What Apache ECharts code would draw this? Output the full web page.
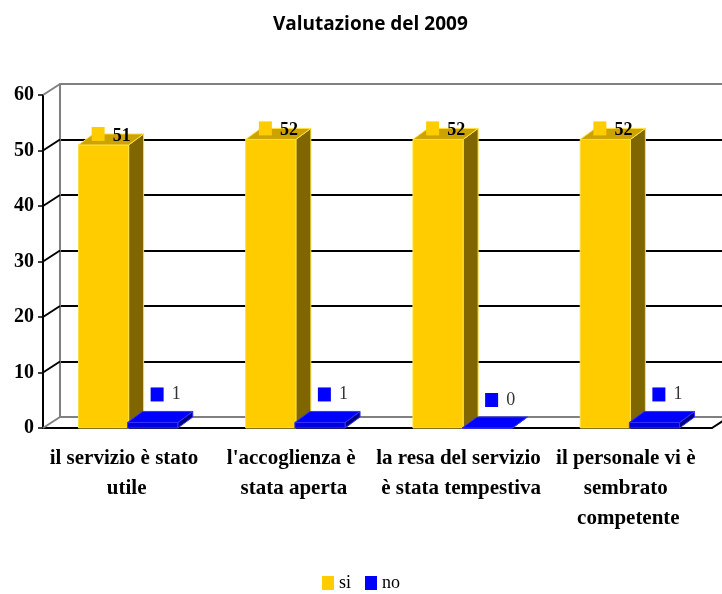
<!DOCTYPE html>
<html>
<head>
<meta charset="utf-8">
<script src="https://cdn.jsdelivr.net/npm/echarts@6/dist/echarts.min.js"></script>
<style>
  html, body { margin: 0; padding: 0; background: #fff; }
  #chart { width: 722px; height: 594px; }
</style>
</head>
<body>
<div id="chart"></div>
<script>
const categories = [
  "il servizio è stato utile",
  "l'accoglienza è stata aperta",
  "la resa del servizio è stata tempestiva",
  "il personale vi è sembrato competente"
];
const siValues = [51, 52, 52, 52];
const noValues = [1, 1, 0, 1];
const yTicks = [0, 10, 20, 30, 40, 50, 60];

// depth of walls and bars (pseudo 3d)
const WALL_DX = 17, WALL_DY = 11;
const BAR_DX = 15, BAR_DY = 11;

const serif = "Liberation Serif";

function bar3d(isSi) {
  const front = isSi ? "#FFCC00" : "#0000E0";
  const top = isSi ? "#CCA300" : "#0000FF";
  const side = isSi ? "#806600" : "#000080";
  const edge = isSi ? "#FFE040" : "#3333FF";
  const key = isSi ? "#FFCC00" : "#0000FF";
  return function (params, api) {
    const cat = api.value(0);
    const val = api.value(1);
    const p = api.coord([cat, val]);
    const b = api.coord([cat, 0]);
    const w = api.size([1, 0])[0] * 0.3;
    const x0 = isSi ? p[0] - w + 2 : p[0] + 1;
    const x1 = x0 + w;
    const yt = p[1], yb = b[1];
    const children = [
      {
        type: "polygon",
        shape: { points: [[x1, yt], [x1 + BAR_DX, yt - BAR_DY], [x1 + BAR_DX, yb - BAR_DY], [x1, yb]] },
        style: { fill: side, stroke: edge, lineWidth: 1 }
      },
      {
        type: "rect",
        shape: { x: x0, y: yt, width: w, height: yb - yt },
        style: { fill: front, stroke: edge, lineWidth: 1 }
      },
      {
        type: "polygon",
        shape: { points: [[x0, yt], [x0 + BAR_DX, yt - BAR_DY], [x1 + BAR_DX, yt - BAR_DY], [x1, yt]] },
        style: { fill: top, stroke: edge, lineWidth: 1 }
      }
    ];
    if (isSi) {
      children.push({
        type: "rect",
        shape: { x: p[0] - 35, y: yt - 18, width: 13, height: 14 },
        style: { fill: key }
      });
      children.push({
        type: "text",
        style: {
          x: p[0] - 14, y: yt - 9, text: String(val),
          fill: "#000", font: "bold 18px " + serif,
          verticalAlign: "middle"
        }
      });
    } else {
      children.push({
        type: "rect",
        shape: { x: p[0] + 24, y: yt - 35, width: 13, height: 14 },
        style: { fill: key }
      });
      children.push({
        type: "text",
        style: {
          x: p[0] + 45, y: yt - 28, text: String(val),
          fill: "#333", font: "18px " + serif,
          verticalAlign: "middle"
        }
      });
    }
    return { type: "group", children: children };
  };
}

function wallEdges(params, api) {
  const cs = params.coordSys;
  const v = api.value(0);
  const y = api.coord([0, v])[1];
  const grey = v === yTicks[0] || v === yTicks[yTicks.length - 1];
  const children = [{
    type: "line",
    shape: { x1: cs.x, y1: y, x2: cs.x + WALL_DX, y2: y - WALL_DY },
    style: { stroke: grey ? "#808080" : "#000", lineWidth: 2 }
  }];
  if (v === 0) {
    const xr = cs.x + cs.width;
    children.push({
      type: "line",
      shape: { x1: xr, y1: y, x2: xr + WALL_DX, y2: y - WALL_DY },
      style: { stroke: "#000", lineWidth: 2 }
    });
  }
  return { type: "group", children: children };
}

const chart = echarts.init(document.getElementById("chart"));

const option = {
  backgroundColor: "#fff",
  animation: false,
  title: {
    text: "Valutazione del 2009",
    left: 268,
    top: 10,
    textStyle: { fontFamily: "Open Sans", fontWeight: "bold", fontSize: 19, color: "#000" }
  },
  legend: {
    data: ["si", "no"],
    top: 569,
    left: "center",
    icon: "rect",
    itemWidth: 12,
    itemHeight: 14,
    itemGap: 14,
    textStyle: { fontFamily: serif, fontSize: 18, color: "#000" }
  },
  grid: [
    // back wall
    { left: 60, top: 84, width: 669, height: 333 },
    // front plane
    { left: 43, top: 95, width: 669, height: 333 }
  ],
  xAxis: [
    { gridIndex: 0, type: "category", data: categories, show: false },
    {
      gridIndex: 1,
      type: "category",
      data: categories,
      axisLine: { lineStyle: { color: "#000", width: 2 } },
      axisTick: { length: 8, lineStyle: { color: "#000", width: 1.5 } },
      axisLabel: {
        interval: 0,
        margin: 16,
        width: 172,
        overflow: "break",
        lineHeight: 30,
        fontFamily: serif,
        fontWeight: "bold",
        fontSize: 21,
        color: "#000"
      }
    }
  ],
  yAxis: [
    {
      gridIndex: 0,
      type: "value",
      min: 0,
      max: 60,
      interval: 10,
      axisLine: { show: true, lineStyle: { color: "#808080", width: 2 } },
      axisTick: { show: false },
      axisLabel: { show: false },
      splitLine: {
        lineStyle: {
          color: ["#808080", "#000", "#000", "#000", "#000", "#000", "#808080"],
          width: 2
        }
      }
    },
    {
      gridIndex: 1,
      type: "value",
      min: 0,
      max: 60,
      interval: 10,
      axisLine: { show: true, lineStyle: { color: "#000", width: 2 } },
      axisTick: { show: true, length: 5, lineStyle: { color: "#000", width: 1.5 } },
      splitLine: { show: false },
      axisLabel: {
        margin: 9,
        fontFamily: serif,
        fontWeight: "bold",
        fontSize: 20,
        color: "#000"
      }
    }
  ],
  series: [
    {
      type: "custom",
      name: "edges",
      xAxisIndex: 1,
      yAxisIndex: 1,
      z: 1,
      silent: true,
      renderItem: wallEdges,
      data: yTicks.map(v => [v]),
      encode: { y: 0 }
    },
    {
      type: "custom",
      name: "si",
      xAxisIndex: 1,
      yAxisIndex: 1,
      itemStyle: { color: "#FFCC00" },
      renderItem: bar3d(true),
      data: siValues.map((v, i) => [i, v]),
      encode: { x: 0, y: 1 }
    },
    {
      type: "custom",
      name: "no",
      xAxisIndex: 1,
      yAxisIndex: 1,
      itemStyle: { color: "#0000FF" },
      renderItem: bar3d(false),
      data: noValues.map((v, i) => [i, v]),
      encode: { x: 0, y: 1 }
    }
  ]
};

chart.setOption(option);
</script>
</body>
</html>
